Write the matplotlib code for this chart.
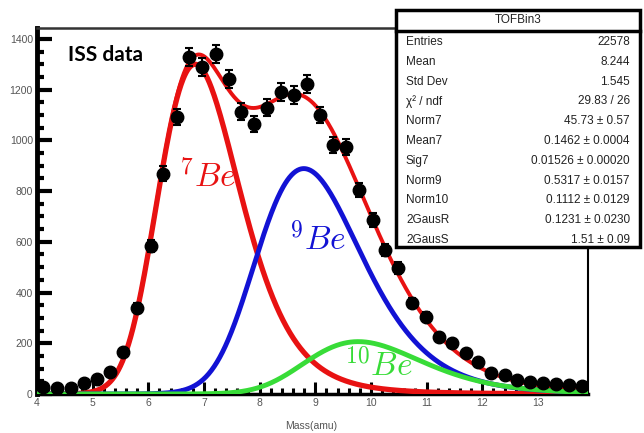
import numpy as np
import matplotlib
matplotlib.use("Agg")
import matplotlib.pyplot as plt
from matplotlib.patches import Rectangle
from matplotlib.lines import Line2D
from matplotlib.ticker import MultipleLocator

plt.rcParams['mathtext.fontset'] = 'cm'

# ---- data ----
mass = [4.11, 4.36, 4.61, 4.85, 5.08, 5.31, 5.55, 5.79, 6.04, 6.27, 6.51, 6.73,
        6.96, 7.21, 7.45, 7.67, 7.90, 8.14, 8.39, 8.62, 8.86, 9.08, 9.32, 9.56,
        9.79, 10.03, 10.25, 10.48, 10.73, 10.99, 11.23, 11.46, 11.71, 11.92,
        12.16, 12.40, 12.63, 12.86, 13.09, 13.33, 13.56, 13.80]
counts = [28, 24, 25, 43, 59, 87, 166, 339, 584, 868, 1092, 1329,
          1289, 1341, 1242, 1112, 1065, 1128, 1191, 1179, 1222, 1100, 982, 974,
          804, 686, 568, 497, 359, 304, 225, 201, 162, 126,
          83, 75, 55, 47, 43, 39, 35, 32]

# fit parameters as printed in the stats box
mean7 = 0.1462
sig7 = 0.01526
norm9 = 0.5317
norm10 = 0.1112
gaus_r = 0.1231
gaus_s = 1.51
peak7 = 1300  # peak height of the 7Be component

stat_names = ["Entries", "Mean", "Std Dev", "\u03c7\u00b2 / ndf", "Norm7", "Mean7",
              "Sig7", "Norm9", "Norm10", "2GausR", "2GausS"]
stat_values = ["22578", "8.244", "1.545", "29.83 / 26", "45.73 \u00b1 0.57",
               "0.1462 \u00b1 0.0004", "0.01526 \u00b1 0.00020",
               "0.5317 \u00b1 0.0157", "0.1112 \u00b1 0.0129",
               "0.1231 \u00b1 0.0230", "1.51 \u00b1 0.09"]

RED = '#e81212'
BLUE = '#1212d4'
GREEN = '#38dc38'


def component(m, k, norm):
    u = 1.0 / m
    mu = mean7 * 7.0 / k
    s = sig7 * 7.0 / k
    core = (1 - gaus_r) * np.exp(-(u - mu) ** 2 / (2 * s ** 2)) / s
    wide = gaus_r * np.exp(-(u - mu) ** 2 / (2 * (gaus_s * s) ** 2)) / (gaus_s * s)
    return norm * (core + wide)


scale = peak7 / (((1 - gaus_r) + gaus_r / gaus_s) / sig7)

xmin, xmax = 4.0, 13.9
ymin, ymax = 0, 1443
m = np.linspace(xmin, xmax, 800)
be7 = scale * component(m, 7, 1.0)
be9 = scale * component(m, 9, norm9)
be10 = scale * component(m, 10, norm10)
total = be7 + be9 + be10

fig = plt.figure(figsize=(6.44, 4.33), dpi=100)
ax = fig.add_axes([37 / 644, 1 - 394 / 433, (588 - 37) / 644, (394 - 28) / 433])

ax.plot(m, total, color=RED, lw=2.8, zorder=3)
ax.plot(m, be7, color=RED, lw=3.8, zorder=4)
ax.plot(m, be9, color=BLUE, lw=3.5, zorder=4)
ax.plot(m, be10, color=GREEN, lw=3.5, zorder=5)

ax.errorbar(mass, counts, yerr=np.sqrt(counts), fmt='o', color='black',
            ms=9, elinewidth=1.5, capsize=3, capthick=1.5, zorder=6)

ax.set_xlim(xmin, xmax)
ax.set_ylim(ymin, ymax)

ax.xaxis.set_major_locator(MultipleLocator(1))
ax.xaxis.set_minor_locator(MultipleLocator(0.2))
ax.yaxis.set_major_locator(MultipleLocator(200))
ax.yaxis.set_minor_locator(MultipleLocator(50))

ax.tick_params(axis='y', which='major', direction='in', length=11, width=3,
               labelsize=7.5, labelcolor='#555555', pad=3)
ax.tick_params(axis='y', which='minor', direction='in', length=5, width=3)
ax.tick_params(axis='x', which='major', direction='in', length=9, width=2.2,
               labelsize=7.5, labelcolor='#555555', pad=3)
ax.tick_params(axis='x', which='minor', direction='in', length=4, width=2.2)
for lab in ax.get_xticklabels() + ax.get_yticklabels():
    lab.set_family('Liberation Sans')

ax.spines['left'].set_linewidth(3.5)
ax.spines['bottom'].set_linewidth(2.5)
ax.spines['top'].set_linewidth(1.8)
ax.spines['top'].set_color('#333333')
ax.spines['right'].set_linewidth(1.5)

ax.set_xlabel("Mass(amu)", fontsize=7.5, color='#555555', family='Liberation Sans')
ax.xaxis.set_label_coords(0.497, -0.074)

ax.text(0.056, 0.925, "ISS data", transform=ax.transAxes, fontsize=15,
        fontweight='bold', family='Lato', ha='left', va='center', zorder=8)

ax.text(6.55, 816, r"$^{7}Be$", color=RED, fontsize=24, ha='left', va='baseline', zorder=8)
ax.text(8.53, 568, r"$^{9}Be$", color=BLUE, fontsize=24, ha='left', va='baseline', zorder=8)
ax.text(9.51, 71, r"$^{10}Be$", color=GREEN, fontsize=24, ha='left', va='baseline', zorder=8)

# ---- stats box ----
x0, x1 = 396 / 644, 640 / 644
y_top, y_bot = 1 - 10 / 433, 1 - 247 / 433
box = Rectangle((x0, y_bot), x1 - x0, y_top - y_bot, transform=fig.transFigure,
                facecolor='white', edgecolor='black', lw=2.5, zorder=10)
fig.add_artist(box)
sep_y = 1 - 31 / 433
fig.add_artist(Line2D([x0, x1], [sep_y, sep_y], transform=fig.transFigure,
                      color='black', lw=2.5, zorder=11))
fig.text((x0 + x1) / 2, 1 - 20 / 433, "TOFBin3", ha='center', va='center',
         fontsize=8.5, family='Liberation Sans', color='#222222', zorder=12)
row0 = 42
step = 19.8
for i, (nm, val) in enumerate(zip(stat_names, stat_values)):
    yy = 1 - (row0 + i * step) / 433
    fig.text(406 / 644, yy, nm, ha='left', va='center', fontsize=8.5,
             family='Liberation Sans', color='#222222', zorder=12)
    fig.text(630 / 644, yy, val, ha='right', va='center', fontsize=8.5,
             family='Liberation Sans', color='#222222', zorder=12)

fig.savefig("out.png", dpi=100)
